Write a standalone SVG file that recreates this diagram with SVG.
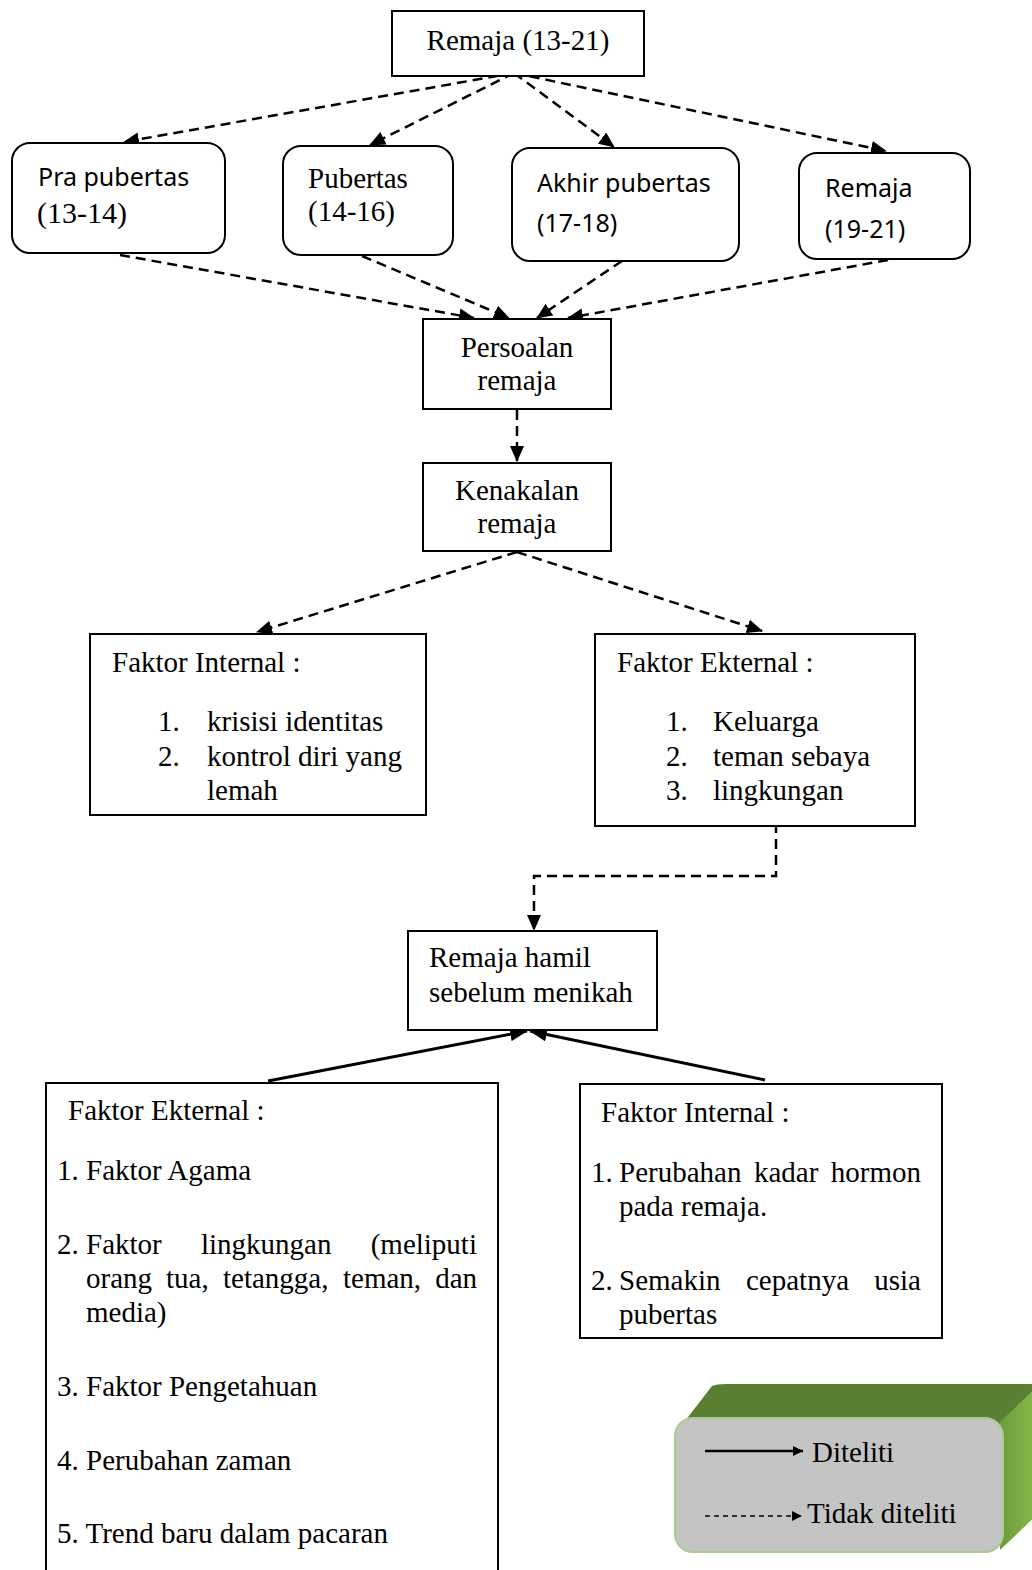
<svg xmlns="http://www.w3.org/2000/svg" width="1032" height="1570" viewBox="0 0 1032 1570">
<defs>
<style>
.serif{font-family:"Liberation Serif","Times New Roman",serif;font-size:29px;fill:#000}
.sans{font-family:"Noto Sans","Liberation Sans",sans-serif;font-size:25px;fill:#000}
.box{fill:#fff;stroke:#000;stroke-width:2}
.dash{fill:none;stroke:#000;stroke-width:2.5;stroke-dasharray:10 6}
.solid{fill:none;stroke:#000;stroke-width:3}
</style>
<marker id="dh" markerUnits="userSpaceOnUse" markerWidth="16" markerHeight="14" refX="15" refY="7" orient="auto"><path d="M0,0 L16,7 L0,14 z" fill="#000"/></marker>
<marker id="sh" markerUnits="userSpaceOnUse" markerWidth="18" markerHeight="14" refX="17" refY="7" orient="auto"><path d="M0,0 L18,7 L0,14 z" fill="#000"/></marker>
<marker id="lh" markerUnits="userSpaceOnUse" markerWidth="10" markerHeight="10" refX="10" refY="5" orient="auto"><path d="M0,0 L10,5 L0,10 z" fill="#000"/></marker>
<linearGradient id="rg" x1="0" y1="0" x2="1" y2="0"><stop offset="0" stop-color="#6d9a3b"/><stop offset="1" stop-color="#86bf4c"/></linearGradient>
</defs>

<g id="connectors">
<line class="dash" x1="514" y1="73" x2="124" y2="142" marker-end="url(#dh)"/>
<line class="dash" x1="514" y1="73" x2="370" y2="145" marker-end="url(#dh)"/>
<line class="dash" x1="514" y1="73" x2="614" y2="147" marker-end="url(#dh)"/>
<line class="dash" x1="514" y1="73" x2="886" y2="151" marker-end="url(#dh)"/>
<line class="dash" x1="120" y1="255" x2="474" y2="318" marker-end="url(#dh)"/>
<line class="dash" x1="362" y1="256" x2="509" y2="318" marker-end="url(#dh)"/>
<line class="dash" x1="622" y1="261" x2="537" y2="318" marker-end="url(#dh)"/>
<line class="dash" x1="888" y1="260" x2="568" y2="318" marker-end="url(#dh)"/>
<line class="dash" x1="517" y1="410" x2="517" y2="461" marker-end="url(#dh)"/>
<line class="dash" x1="517" y1="552" x2="257" y2="632" marker-end="url(#dh)"/>
<line class="dash" x1="517" y1="552" x2="762" y2="631" marker-end="url(#dh)"/>
<polyline class="dash" points="776,823 776,876 534,876 534,930" marker-end="url(#dh)"/>
<line class="solid" x1="268" y1="1081" x2="527" y2="1031" marker-end="url(#sh)"/>
<line class="solid" x1="765" y1="1080" x2="530" y2="1031" marker-end="url(#sh)"/>
</g>

<g id="n-remaja">
<rect class="box" x="392" y="11" width="252" height="65"/>
<text class="serif" x="518" y="50" text-anchor="middle">Remaja (13-21)</text>
</g>

<g id="n-prapubertas">
<rect class="box" x="12" y="143" width="213" height="110" rx="18"/>
<text class="sans" x="38" y="186">Pra pubertas</text>
<text class="serif" x="37" y="223" style="font-size:30px">(13-14)</text>
</g>

<g id="n-pubertas">
<rect class="box" x="283" y="146" width="170" height="109" rx="18"/>
<text class="serif" x="308" y="188">Pubertas</text>
<text class="serif" x="308" y="221">(14-16)</text>
</g>

<g id="n-akhir">
<rect class="box" x="512" y="148" width="227" height="113" rx="18"/>
<text class="sans" x="537" y="192">Akhir pubertas</text>
<text class="sans" x="537" y="232">(17-18)</text>
</g>

<g id="n-remaja1921">
<rect class="box" x="799" y="153" width="171" height="106" rx="18"/>
<text class="sans" x="825" y="197">Remaja</text>
<text class="sans" x="825" y="238">(19-21)</text>
</g>

<g id="n-persoalan">
<rect class="box" x="423" y="319" width="188" height="90"/>
<text class="serif" x="517" y="357" text-anchor="middle">Persoalan</text>
<text class="serif" x="517" y="390" text-anchor="middle">remaja</text>
</g>

<g id="n-kenakalan">
<rect class="box" x="423" y="463" width="188" height="88"/>
<text class="serif" x="517" y="500" text-anchor="middle">Kenakalan</text>
<text class="serif" x="517" y="533" text-anchor="middle">remaja</text>
</g>

<g id="n-internal1">
<rect class="box" x="90" y="634" width="336" height="181"/>
<text class="serif" x="112" y="672">Faktor Internal :</text>
<text class="serif" x="158" y="731">1.</text>
<text class="serif" x="207" y="731">krisisi identitas</text>
<text class="serif" x="158" y="766">2.</text>
<text class="serif" x="207" y="766">kontrol diri yang</text>
<text class="serif" x="207" y="800">lemah</text>
</g>

<g id="n-eksternal1">
<rect class="box" x="595" y="634" width="320" height="192"/>
<text class="serif" x="617" y="672">Faktor Ekternal :</text>
<text class="serif" x="666" y="731">1.</text>
<text class="serif" x="713" y="731">Keluarga</text>
<text class="serif" x="666" y="766">2.</text>
<text class="serif" x="713" y="766">teman sebaya</text>
<text class="serif" x="666" y="800">3.</text>
<text class="serif" x="713" y="800">lingkungan</text>
</g>

<g id="n-hamil">
<rect class="box" x="408" y="931" width="249" height="99"/>
<text class="serif" x="429" y="967">Remaja hamil</text>
<text class="serif" x="429" y="1002">sebelum menikah</text>
</g>

<g id="n-eksternal2">
<path class="box" d="M46,1572 L46,1083 L498,1083 L498,1572" fill="#fff"/>
<text class="serif" x="68" y="1120">Faktor Ekternal :</text>
<text class="serif" x="57" y="1180">1. Faktor Agama</text>
<text class="serif" x="57" y="1254">2.</text>
<text class="serif" x="86" y="1254">Faktor</text>
<text class="serif" x="201" y="1254">lingkungan</text>
<text class="serif" x="477" y="1254" text-anchor="end">(meliputi</text>
<text class="serif" x="86" y="1288">orang</text>
<text class="serif" x="166" y="1288">tua,</text>
<text class="serif" x="223" y="1288">tetangga,</text>
<text class="serif" x="343" y="1288">teman,</text>
<text class="serif" x="477" y="1288" text-anchor="end">dan</text>
<text class="serif" x="86" y="1322">media)</text>
<text class="serif" x="57" y="1396">3. Faktor Pengetahuan</text>
<text class="serif" x="57" y="1470">4. Perubahan zaman</text>
<text class="serif" x="57" y="1543">5. Trend baru dalam pacaran</text>
</g>

<g id="n-internal2">
<rect class="box" x="580" y="1084" width="362" height="254"/>
<text class="serif" x="601" y="1122">Faktor Internal :</text>
<text class="serif" x="591" y="1182">1.</text>
<text class="serif" x="619" y="1182">Perubahan</text>
<text class="serif" x="754" y="1182">kadar</text>
<text class="serif" x="921" y="1182" text-anchor="end">hormon</text>
<text class="serif" x="619" y="1216">pada remaja.</text>
<text class="serif" x="591" y="1290">2.</text>
<text class="serif" x="619" y="1290">Semakin</text>
<text class="serif" x="746" y="1290">cepatnya</text>
<text class="serif" x="921" y="1290" text-anchor="end">usia</text>
<text class="serif" x="619" y="1324">pubertas</text>
</g>

<g id="legend">
<path d="M678,1430 L712,1386 Q716,1384 726,1384 L1040,1384 L1003,1424 Z" fill="#5a7f33"/>
<path d="M1000,1422 L1040,1384 L1040,1512 L1000,1550 Z" fill="url(#rg)"/>
<rect x="675" y="1418" width="328" height="134" rx="18" fill="#c4c4c4" stroke="#a8cc8c" stroke-width="2"/>
<line x1="705" y1="1451" x2="803" y2="1451" stroke="#000" stroke-width="2.5" marker-end="url(#lh)"/>
<text class="serif" x="812" y="1462">Diteliti</text>
<line x1="705" y1="1516" x2="802" y2="1516" stroke="#000" stroke-width="1.6" stroke-dasharray="5 4" marker-end="url(#lh)"/>
<text class="serif" x="807" y="1523">Tidak diteliti</text>
</g>
</svg>
